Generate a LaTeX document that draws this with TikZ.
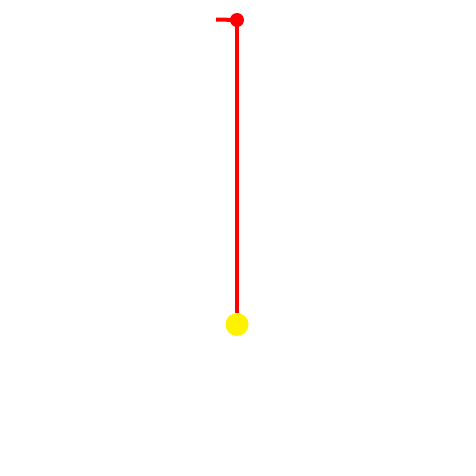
\documentclass[tikz,border=0pt]{standalone}
\begin{document}
\begin{tikzpicture}[x=1pt,y=-1pt,
  rod/.style={draw=red,line width=4pt},
  pivot/.style={circle,fill=red,inner sep=0pt,minimum size=14pt},
  bob/.style={circle,fill=yellow,inner sep=0pt,minimum size=23pt}]
\useasboundingbox (0,0) rectangle (476,476);
\node[pivot] (p) at (237,20) {};
\node[bob] (b) at (237,324.5) {};
\coordinate (s) at (216,19.5);
\draw[rod] (s) -- (p.center);
\draw[rod] (p.center) -- (b.north);
\end{tikzpicture}
\end{document}
